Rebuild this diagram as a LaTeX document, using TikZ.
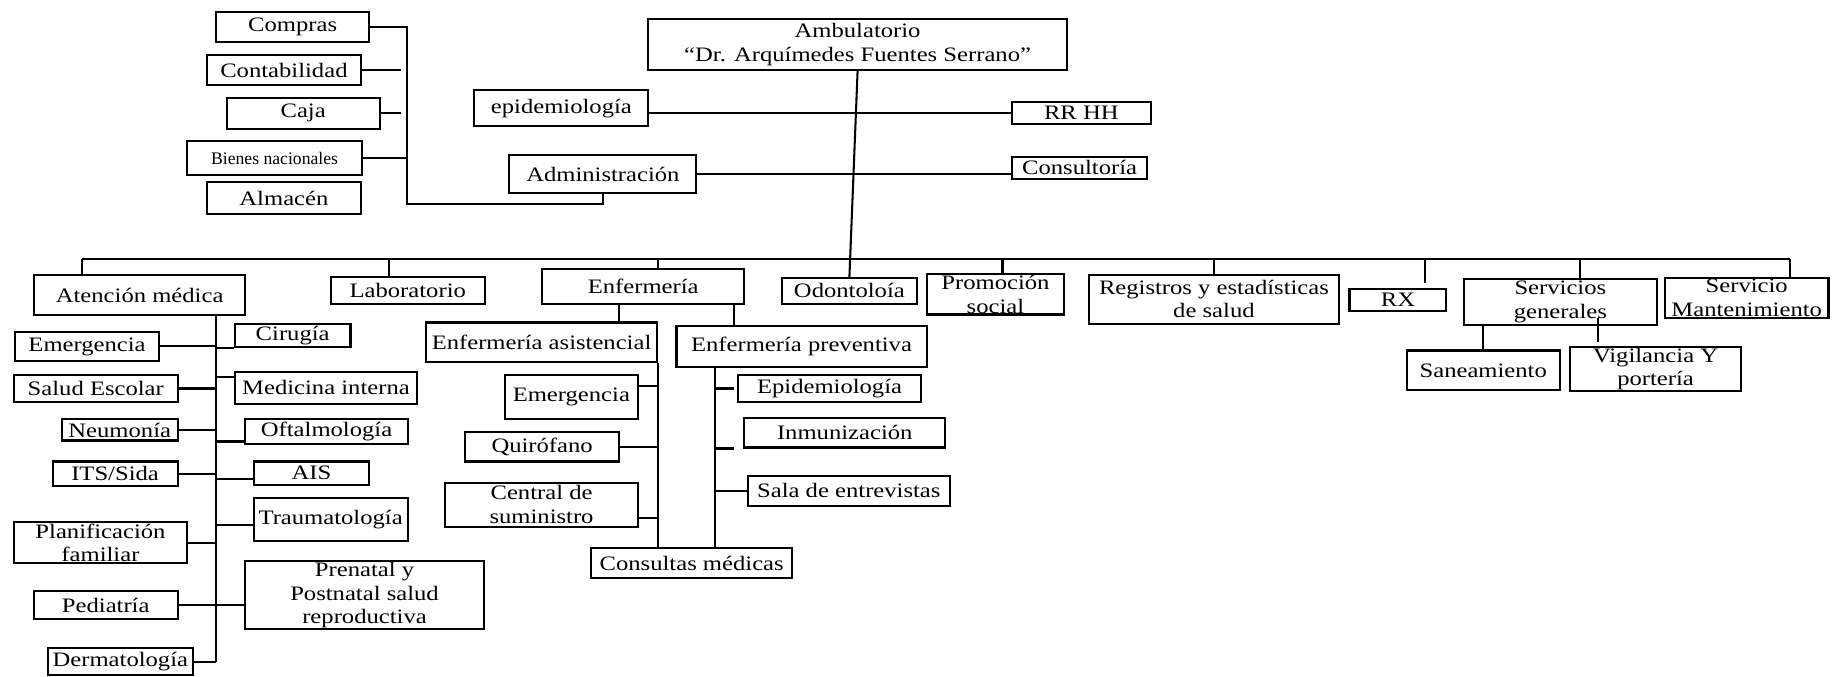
\documentclass[tikz,border=0pt]{standalone}
\usepackage{fontspec}
\setmainfont{Liberation Serif}[FakeStretch=1.2]
\newfontfamily\plainserif{Liberation Serif}
\usepackage{tikz}
\usetikzlibrary{calc}
% box from its corners (x1,y1)--(x2,y2), picture units
\newcommand\orgbox[7][]{\node[box,#1,minimum width={(#5-#3)*0.02cm},minimum height={(#6-#4)*0.02cm}] (#2) at ({(#3+#5)/2},{(#4+#6)/2}) {#7};}
\tikzset{
  box/.style={draw,line width=1pt,inner sep=0.5pt,align=center,font=\fontsize{10}{11.5}\selectfont},
  conn/.style={line width=1pt}
}

\begin{document}
\begin{tikzpicture}[x=0.02cm,y=-0.02cm]
			%%%%% START %%%%%
			\useasboundingbox (0,0) rectangle (1568,579);

			% direction and administration
			\orgbox[font=\fontsize{10}{12}\selectfont]{amb}{555}{16}{913}{60}{Ambulatorio\\“Dr. Arquímedes Fuentes Serrano”}
			\orgbox{epi}{406}{77}{555}{108}{epidemiología}
			\orgbox{rrhh}{866}{87}{985}{106}{RR HH}
			\orgbox{admin}{436}{133}{596}{165}{Administración}
			\orgbox{consul}{866}{134}{982}{153}{Consultoría}
			\orgbox{compras}{185}{10}{316}{36}{Compras}
			\orgbox{conta}{177}{47}{309}{73}{Contabilidad}
			\orgbox{caja}{194}{84}{325}{110}{Caja}
			\orgbox[font=\plainserif\fontsize{8.6}{10}\selectfont]{bienes}{160}{121}{310}{150}{Bienes nacionales}
			\orgbox{almacen}{177}{156}{309}{183}{Almacén}

			\coordinate (admtop) at (348,22);
			\coordinate (admbot) at (348,175);
			\draw[conn] (compras.east) -- (compras.east -| admtop) -- (admbot) -| (admin.south);
			\draw[conn] (conta.east) -- ++(33,0);
			\draw[conn] (caja.east) -- ++(17,0);
			\draw[conn] (bienes.east) -- (bienes.east -| admtop);
			\draw[conn] (epi.east |- rrhh.west) -- (rrhh.west);
			\draw[conn] (admin.east) -- (admin.east -| consul.west);

			% departments
			\orgbox{atencion}{29}{235}{210}{270}{Atención médica}
			\orgbox{lab}{283}{237}{415}{260}{Laboratorio}
			\orgbox{enf}{464}{230}{637}{260}{Enfermería}
			\orgbox{odonto}{669}{238}{785}{260}{Odontoloía}
			\orgbox{promo}{793}{235}{911}{269}{Promoción\\social}
			\orgbox{regis}{932}{235}{1146}{277}{Registros y estadísticas\\de salud}
			\orgbox{rx}{1155}{247}{1238}{266}{RX}
			\orgbox{serv}{1253}{239}{1418}{278}{Servicios\\generales}
			\orgbox{mant}{1425}{238}{1565}{272}{Servicio\\Mantenimiento}

			\draw[conn] (amb.south) -- (odonto.north);
			\coordinate (b1) at (70,222);
			\coordinate (b2) at (333,222);
			\coordinate (b3) at (563,222);
			\coordinate (b5) at (858,222);
			\coordinate (b6) at (1039,222);
			\coordinate (b7) at (1220,222);
			\coordinate (b8) at (1352,222);
			\coordinate (b9) at (1532,222);
			\draw[conn] (b1) -- (b9);
			\draw[conn] (b1) -- (b1 |- atencion.north);
			\draw[conn] (b2) -- (b2 |- lab.north);
			\draw[conn] (b3) -- (b3 |- enf.north);
			\draw[conn] (b5) -- (b5 |- promo.north);
			\draw[conn] (b6) -- (b6 |- regis.north);
			\draw[conn,shorten >=2pt] (b7) -- (b7 |- rx.north);
			\draw[conn] (b8) -- (b8 |- serv.north);
			\draw[conn] (b9) -- (b9 |- mant.north);

			% medical care
			\orgbox{emer}{13}{284}{136}{309}{Emergencia}
			\orgbox{salud}{12}{321}{152}{344}{Salud Escolar}
			\orgbox{neumo}{53}{359}{152}{377}{Neumonía}
			\orgbox{its}{45}{395}{152}{416}{ITS/Sida}
			\orgbox{planif}{12}{447}{160}{482}{Planificación\\familiar}
			\orgbox{pedia}{29}{506}{152}{530}{Pediatría}
			\orgbox{derma}{41}{555}{165}{578}{Dermatología}
			\orgbox{cirugia}{201}{277}{300}{297}{Cirugía}
			\orgbox{medint}{201}{318}{357}{346}{Medicina interna}
			\orgbox{oftal}{210}{359}{349}{380}{Oftalmología}
			\orgbox{ais}{217}{395}{316}{415}{AIS}
			\orgbox{trauma}{217}{426}{349}{463}{Traumatología}
			\orgbox{prenatal}{210}{481}{414}{538}{Prenatal y\\Postnatal salud\\reproductiva}

			\coordinate (am1) at (185,270);
			\coordinate (am2) at (185,567);
			\draw[conn] (am1) -- (am2);
			\draw[conn] (emer.east) -- (emer.east -| am1);
			\draw[conn] (salud.east) -- (salud.east -| am1);
			\draw[conn] (neumo.east) -- (neumo.east -| am1);
			\draw[conn] (its.east) -- (its.east -| am1);
			\draw[conn] (planif.east) -- (planif.east -| am1);
			\draw[conn] (pedia.east) -- (pedia.east -| prenatal.west);
			\draw[conn] (derma.east) -- (derma.east -| am1);
			\draw[conn] (cirugia.south west -| am1) -- (cirugia.south west);
			\draw[conn] ([yshift=0.18cm]medint.west -| am1) -- ([yshift=0.18cm]medint.west);
			\draw[conn] ([yshift=0.06cm]oftal.south west -| am1) -- ([yshift=0.06cm]oftal.south west);
			\draw[conn] ([yshift=-0.1cm]ais.west -| am1) -- ([yshift=-0.1cm]ais.west);
			\draw[conn] ([yshift=-0.1cm]trauma.west -| am1) -- ([yshift=-0.1cm]trauma.west);

			% nursing
			\orgbox{asist}{365}{276}{562}{310}{Enfermería asistencial}
			\orgbox{prev}{579}{279}{793}{314}{Enfermería preventiva}
			\orgbox{emer2}{432}{321}{546}{359}{Emergencia}
			\orgbox{quiro}{398}{370}{530}{395}{Quirófano}
			\orgbox{central}{381}{413}{546}{451}{Central de\\suministro}
			\orgbox{consultas}{506}{469}{678}{495}{Consultas médicas}
			\orgbox{epi2}{632}{321}{788}{344}{Epidemiología}
			\orgbox{inmun}{637}{358}{809}{383}{Inmunización}
			\orgbox{sala}{640}{407}{813}{433}{Sala de entrevistas}

			\coordinate (ea) at (530,260);
			\coordinate (ep) at (628,260);
			\coordinate (pv) at (612,314);
			\draw[conn] (ea) -- (ea |- asist.north);
			\draw[conn] (ep) -- (ep |- prev.north);
			\draw[conn] (asist.south east) -- (asist.south east |- consultas.north);
			\draw[conn] ([yshift=0.2cm]emer2.east) -- ([yshift=0.2cm]emer2.east -| asist.south east);
			\draw[conn] (quiro.east) -- (quiro.east -| asist.south east);
			\draw[conn] ([yshift=-0.22cm]central.east) -- ([yshift=-0.22cm]central.east -| asist.south east);
			\draw[conn] (pv) -- (pv |- consultas.north);
			\draw[conn,shorten >=1.5pt] (pv |- epi2.west) -- (epi2.west);
			\draw[conn,shorten >=4.5pt] (pv |- inmun.south west) -- (inmun.south west);
			\draw[conn] (pv |- sala.west) -- (sala.west);

			% general services
			\orgbox{sanea}{1204}{300}{1335}{334}{Saneamiento}
			\orgbox{vigil}{1344}{297}{1490}{335}{Vigilancia Y\\portería}
			\coordinate (vg) at (1368,272);
			\draw[conn] (serv.south -| sanea.north) -- (sanea.north);
			\draw[conn,shorten >=2pt] (vg) -- (vg |- vigil.north);
			%%%%% END %%%%%
\end{tikzpicture}
\end{document}
